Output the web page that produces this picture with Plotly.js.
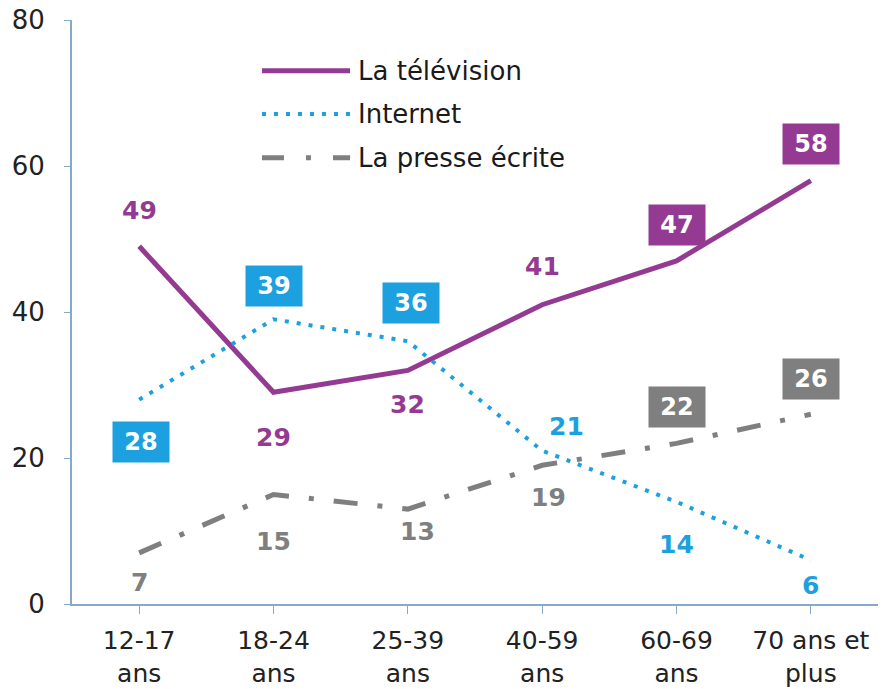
<!DOCTYPE html>
<html>
<head>
<meta charset="utf-8">
<script src="https://cdn.plot.ly/plotly-3.0.1.min.js"></script>
<style>
  html, body { margin: 0; padding: 0; background: #fff; }
  #chart { width: 884px; height: 689px; }
</style>
</head>
<body>
<div id="chart"></div>
<script>
// Age groups (x categories)
let ageGroups = ['12-17<br>ans', '18-24<br>ans', '25-39<br>ans', '40-59<br>ans', '60-69<br>ans', '70 ans et<br>plus'];

// Series values (%)
let television = [49, 29, 32, 41, 47, 58];
let internet = [28, 39, 36, 21, 14, 6];
let presse = [7, 15, 13, 19, 22, 26];

let seriesNames = ['La télévision', 'Internet', 'La presse écrite'];

let purple = '#953a92';
let blue = '#1ca0e0';
let grey = '#7f7f7f';

// label placement per point: [yshift, xshift, boxed]
let tvLabels = [[36, 0, false], [-45, 0, false], [-34, 0, false], [38, 0, false], [36, 0, true], [37, 0, true]];
let netLabels = [[-42, 2, true], [33, 0, true], [38, 3, true], [24, 24, false], [-43, 0, false], [-25, 0, false]];
let presseLabels = [[-30, 0, false], [-47, 0, false], [-22, 10, false], [-32, 6, false], [36, 0, true], [35, 0, true]];

function makeLabels(values, placement, color) {
    return values.map((v, i) => {
        let p = placement[i];
        let ann = {
            x: i, y: v, xref: 'x', yref: 'y',
            text: '<b>' + v + '</b>',
            showarrow: false,
            yshift: p[0], xshift: p[1],
            font: { family: 'DejaVu Sans', size: 25, color: p[2] ? '#ffffff' : color }
        };
        if (p[2]) {
            ann.bgcolor = color;
            ann.width = 54;
            ann.height = 38;
            ann.borderpad = 1;
            ann.font.size = 24;
        }
        return ann;
    });
}

let tvTrace = {
    x: [0, 1, 2, 3, 4, 5],
    y: television,
    mode: 'lines',
    name: seriesNames[0],
    line: { color: purple, width: 5 }
};

let netTrace = {
    x: [0, 1, 2, 3, 4, 5],
    y: internet,
    mode: 'lines',
    name: seriesNames[1],
    line: { color: blue, width: 4, dash: '4px,8px' }
};

let presseTrace = {
    x: [0, 1, 2, 3, 4, 5],
    y: presse,
    mode: 'lines',
    name: seriesNames[2],
    line: { color: grey, width: 5, dash: '24px,20px,5px,20px' }
};

// hand-made legend (long line samples like the original)
let legendY = [0.913, 0.839, 0.764];
let legendStyles = [
    { color: purple, width: 5, dash: 'solid' },
    { color: blue, width: 4, dash: '4px,8px' },
    { color: grey, width: 5, dash: '22px,22px,5px,22px' }
];
let legendShapes = legendStyles.map((s, i) => ({
    type: 'line', xref: 'paper', yref: 'paper',
    x0: 0.2357, x1: 0.345, y0: legendY[i], y1: legendY[i],
    line: s
}));
let legendText = seriesNames.map((n, i) => ({
    xref: 'paper', yref: 'paper', x: 0.3524, y: legendY[i],
    xanchor: 'left', yanchor: 'middle', showarrow: false,
    text: n,
    font: { family: 'DejaVu Sans', size: 26, color: '#1a1a1a' }
}));

let annotations = []
    .concat(makeLabels(television, tvLabels, purple))
    .concat(makeLabels(internet, netLabels, blue))
    .concat(makeLabels(presse, presseLabels, grey))
    .concat(legendText);

let layout = {
    width: 884,
    height: 689,
    margin: { l: 72, r: 6, t: 20, b: 85 },
    paper_bgcolor: '#ffffff',
    plot_bgcolor: '#ffffff',
    showlegend: false,
    xaxis: {
        range: [-0.5, 5.5],
        tickmode: 'array',
        tickvals: [0, 1, 2, 3, 4, 5],
        ticktext: ageGroups,
        tickson: 'boundaries',
        ticks: 'outside',
        ticklen: 8,
        tickcolor: '#86a9c8',
        showline: true,
        linecolor: '#86a9c8',
        linewidth: 2,
        showgrid: false,
        zeroline: false,
        ticklabelstandoff: 5,
        tickfont: { family: 'DejaVu Sans', size: 25, color: '#222' }
    },
    yaxis: {
        range: [0, 80],
        tickvals: [0, 20, 40, 60, 80],
        ticks: 'outside',
        ticklen: 6,
        tickcolor: '#86a9c8',
        showline: true,
        linecolor: '#86a9c8',
        linewidth: 2,
        showgrid: false,
        zeroline: false,
        ticklabelstandoff: 14,
        tickfont: { family: 'DejaVu Sans', size: 26, color: '#222' }
    },
    shapes: legendShapes,
    annotations: annotations
};

Plotly.newPlot('chart', [tvTrace, netTrace, presseTrace], layout, { displayModeBar: false });
</script>
</body>
</html>
